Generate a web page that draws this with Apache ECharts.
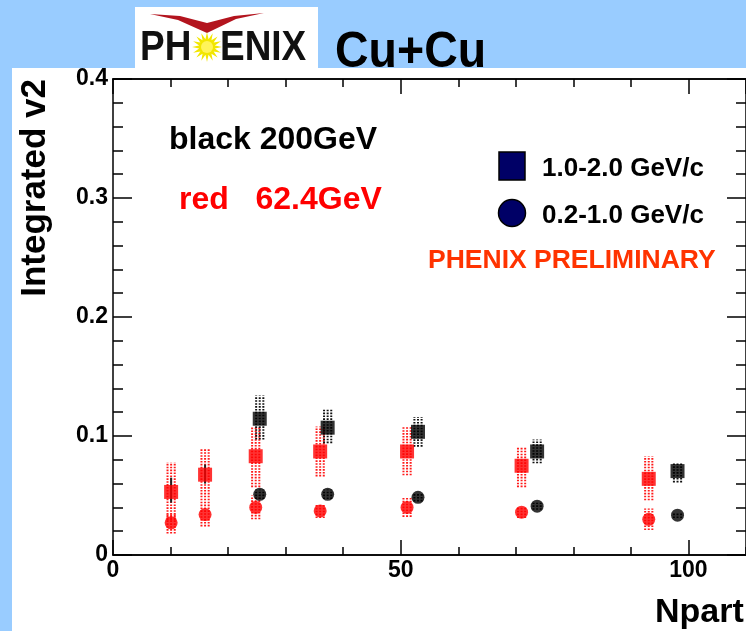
<!DOCTYPE html>
<html><head><meta charset="utf-8">
<script src="https://cdn.jsdelivr.net/npm/echarts@6/dist/echarts.min.js"></script>
<style>html,body{margin:0;padding:0;background:#99ccff;}#c{width:746px;height:631px;}</style>
</head><body><div id="c"></div>
<script>
// ---- data ----
// red = 62.4 GeV, black = 200 GeV
const redN      = [10.1, 16.0, 24.8, 36.0, 51.1, 71.0, 93.1];
const redSqV2   = [0.053, 0.0675, 0.083, 0.087, 0.087, 0.075, 0.064];
const redSqLo   = [0.029, 0.046, 0.057, 0.066, 0.067, 0.057, 0.046];
const redSqHi   = [0.078, 0.089, 0.108, 0.108, 0.108, 0.091, 0.083];
const redCiV2   = [0.027, 0.034, 0.040, 0.037, 0.040, 0.036, 0.030];
const redCiLo   = [0.018, 0.024, 0.030, 0.031, 0.032, 0.031, 0.021];
const redCiHi   = [0.034, 0.045, 0.050, 0.043, 0.048, 0.040, 0.039];
const redStatN  = [10.1, 16.0];
const redStatLo = [0.044, 0.060];
const redStatHi = [0.065, 0.076];

const blkN      = [25.5, 37.3, 53.0, 73.7, 98.1];
const blkSqV2   = [0.1145, 0.107, 0.1035, 0.087, 0.0705];
const blkSqLo   = [0.097, 0.094, 0.091, 0.077, 0.061];
const blkSqHi   = [0.134, 0.122, 0.116, 0.097, 0.078];
const blkCiV2   = [0.051, 0.051, 0.0485, 0.041, 0.0335];
const blkCiLo   = [0.047, 0.047, 0.045, 0.038, 0.031];
const blkCiHi   = [0.055, 0.055, 0.052, 0.044, 0.036];

const yTicks = [0, 0.1, 0.2, 0.3, 0.4];
const xTicks = [0, 50, 100];

// ---- helpers ----
const FONT = 'Liberation Sans, Arial, Helvetica, sans-serif';
function pts(xs, ys){ return xs.map((x,i)=>[x, ys[i]]); }
function bands(xs, lo, hi){ return xs.map((x,i)=>[x, lo[i], hi[i]]); }
function bandRender(color){
  return function(params, api){
    const a = api.coord([api.value(0), api.value(1)]);
    const b = api.coord([api.value(0), api.value(2)]);
    const ch = [];
    [-3.6, 0, 3.6].forEach(dx => ch.push({
      type:'line',
      shape:{x1:a[0]+dx, y1:a[1], x2:b[0]+dx, y2:b[1]},
      style:{stroke:color, lineWidth:2, lineDash:[1.6,1.3]}
    }));
    return {type:'group', children:ch};
  };
}
function statRender(params, api){
  const a = api.coord([api.value(0), api.value(1)]);
  const b = api.coord([api.value(0), api.value(2)]);
  return {type:'line', shape:{x1:a[0],y1:a[1],x2:b[0],y2:b[1]}, style:{stroke:'#222', lineWidth:2}};
}

const axLine = {show:true, onZero:false, lineStyle:{color:'#000', width:1.5}};
function xAx(pos, interval, len, labels){
  return {
    type:'value', min:0, max:110, interval:interval, position:pos,
    axisLine: axLine,
    axisTick:{show:true, inside:true, length:len, lineStyle:{color:'#000', width:1.5}},
    axisLabel: labels ? {show:true, fontFamily:FONT, fontWeight:'bold', fontSize:23, color:'#000', margin:4,
      showMaxLabel:false, formatter:v => xTicks.indexOf(v) >= 0 ? String(v) : ''} : {show:false},
    splitLine:{show:false}
  };
}
function yAx(pos, labels){
  return {
    type:'value', min:0, max:0.4, interval:0.1, position:pos,
    axisLine: axLine,
    axisTick:{show:true, inside:true, length:19, lineStyle:{color:'#000', width:1.5}},
    minorTick:{show:true, splitNumber:5, length:10, lineStyle:{color:'#000', width:1.5}},
    axisLabel: labels ? {show:true, fontFamily:FONT, fontWeight:'bold', fontSize:23, color:'#000', margin:5,
      formatter:v => { const i = yTicks.findIndex(t => Math.abs(t-v) < 1e-9); return i<0 ? '' : (yTicks[i]===0 ? '0' : yTicks[i].toFixed(1)); }} : {show:false},
    splitLine:{show:false}
  };
}

const chart = echarts.init(document.getElementById('c'), null, {renderer:'canvas'});

// star polygon for logo sun (decoration)
const sun = [];
for (let k=0;k<32;k++){ const r = (k%2===0)?15:8; const a = k*Math.PI/16; sun.push([207+r*Math.cos(a), 47+r*Math.sin(a)]); }

chart.setOption({
  backgroundColor:'#99ccff',
  animation:false,
  grid:{left:113, top:79, width:634, height:476},
  xAxis:[ xAx('bottom',50,15,true), xAx('bottom',10,8,false), xAx('top',50,15,false), xAx('top',10,8,false) ],
  yAxis:[ yAx('left',true), yAx('right',false) ],
  graphic:[
    {type:'rect', z:-100, shape:{x:12, y:68, width:740, height:570}, style:{fill:'#ffffff'}},
    {type:'rect', z:-100, shape:{x:135, y:7, width:183, height:61}, style:{fill:'#ffffff'}},
    {type:'polygon', z:10, shape:{points:[[150,14],[180,16],[207,23],[234,16],[264,13],[236,19],[207,33],[178,20]]}, style:{fill:'#b3141e'}},
    {type:'text', z:10, x:140, y:48, scaleX:0.88, style:{text:'PH', x:0, y:0, font:'bold 42px '+FONT, fill:'#111', textAlign:'left', textVerticalAlign:'middle'}},
    {type:'polygon', z:10, shape:{points:sun}, style:{fill:'#f2e600'}},
    {type:'circle', z:10, shape:{cx:207, cy:47, r:6}, style:{fill:'#fff45a'}},
    {type:'text', z:10, x:220, y:48, scaleX:0.88, style:{text:'ENIX', x:0, y:0, font:'bold 42px '+FONT, fill:'#111', textAlign:'left', textVerticalAlign:'middle'}},
    {type:'text', z:10, x:335, y:53, scaleX:0.93, style:{text:'Cu+Cu', x:0, y:0, font:'bold 50px '+FONT, fill:'#000', textAlign:'left', textVerticalAlign:'middle'}},
    {type:'text', z:10, x:35, y:79, rotation:Math.PI/2, style:{text:'Integrated v2', x:0, y:0, font:'bold 35px '+FONT, fill:'#000', textAlign:'right', textVerticalAlign:'middle'}},
    {type:'text', z:10, style:{text:'Npart', x:655, y:613, font:'bold 34px '+FONT, fill:'#000', textAlign:'left', textVerticalAlign:'middle'}},
    {type:'text', z:10, style:{text:'black 200GeV', x:169, y:140, font:'bold 32px '+FONT, fill:'#000', textAlign:'left', textVerticalAlign:'middle'}},
    {type:'text', z:10, style:{text:'red   62.4GeV', x:179, y:200, font:'bold 32px '+FONT, fill:'#ff0000', textAlign:'left', textVerticalAlign:'middle'}},
    {type:'rect', z:10, shape:{x:499, y:152, width:26, height:28}, style:{fill:'#000066', stroke:'#000', lineWidth:1.5}},
    {type:'text', z:10, style:{text:'1.0-2.0 GeV/c', x:542, y:169, font:'bold 26px '+FONT, fill:'#000', textAlign:'left', textVerticalAlign:'middle'}},
    {type:'circle', z:10, shape:{cx:512, cy:213, r:13.5}, style:{fill:'#000066', stroke:'#000', lineWidth:1.5}},
    {type:'text', z:10, style:{text:'0.2-1.0 GeV/c', x:542, y:216, font:'bold 26px '+FONT, fill:'#000', textAlign:'left', textVerticalAlign:'middle'}},
    {type:'text', z:10, style:{text:'PHENIX PRELIMINARY', x:428, y:261, font:'bold 26.5px '+FONT, fill:'#ff3300', textAlign:'left', textVerticalAlign:'middle'}}
  ],
  series:[
    {type:'custom', name:'red 1.0-2.0 sys', renderItem:bandRender('#ff1a1a'), data:bands(redN, redSqLo, redSqHi), z:2},
    {type:'custom', name:'red 0.2-1.0 sys', renderItem:bandRender('#ff1a1a'), data:bands(redN, redCiLo, redCiHi), z:2},
    {type:'custom', name:'black 1.0-2.0 sys', renderItem:bandRender('#111'), data:bands(blkN, blkSqLo, blkSqHi), z:2},
    {type:'custom', name:'black 0.2-1.0 sys', renderItem:bandRender('#111'), data:bands(blkN, blkCiLo, blkCiHi), z:2},
    {type:'custom', name:'red stat', renderItem:statRender, data:bands(redStatN, redStatLo, redStatHi), z:3},
    {type:'scatter', name:'red 1.0-2.0', data:pts(redN, redSqV2), symbol:'rect', symbolSize:14, itemStyle:{color:'#ff0000'}, z:4},
    {type:'scatter', name:'red 0.2-1.0', data:pts(redN, redCiV2), symbol:'circle', symbolSize:13, itemStyle:{color:'#ff0000'}, z:4},
    {type:'scatter', name:'black 1.0-2.0', data:pts(blkN, blkSqV2), symbol:'rect', symbolSize:14, itemStyle:{color:'#000'}, z:5},
    {type:'scatter', name:'black 0.2-1.0', data:pts(blkN, blkCiV2), symbol:'circle', symbolSize:13, itemStyle:{color:'#000'}, z:5}
  ]
});
</script></body></html>
